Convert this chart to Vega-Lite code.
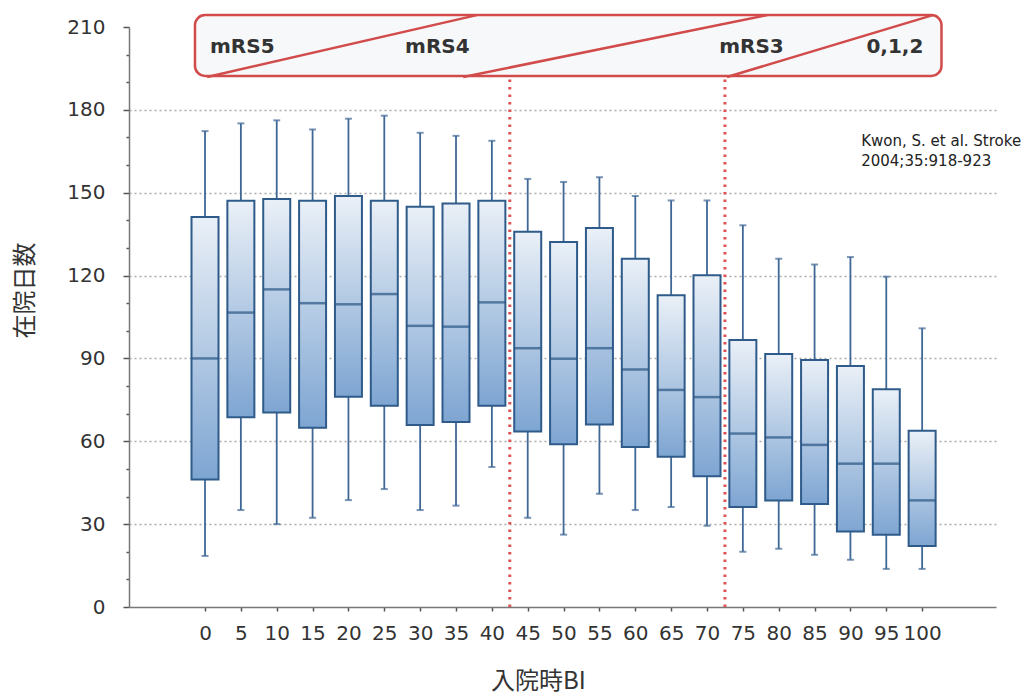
{
  "$schema": "https://vega.github.io/schema/vega-lite/v6.json",
  "width": 867,
  "height": 580,
  "autosize": "none",
  "padding": {"left": 129, "top": 27, "right": 31, "bottom": 89},
  "background": "white",
  "config": {"view": {"stroke": null}, "font": "DejaVu Sans"},
  "resolve": {"axis": {"x": "independent", "y": "independent"}},
  "datasets": {
    "boxes": [
      {"bi": 0, "min": 18.5, "q1": 46.2, "median": 90.0, "q3": 141.2, "max": 172.3},
      {"bi": 5, "min": 35.1, "q1": 68.7, "median": 106.6, "q3": 147.1, "max": 175.1},
      {"bi": 10, "min": 30.0, "q1": 70.4, "median": 115.0, "q3": 147.7, "max": 176.2},
      {"bi": 15, "min": 32.3, "q1": 64.9, "median": 110.0, "q3": 147.1, "max": 172.9},
      {"bi": 20, "min": 38.7, "q1": 76.1, "median": 109.6, "q3": 148.8, "max": 176.8},
      {"bi": 25, "min": 42.7, "q1": 72.9, "median": 113.3, "q3": 147.1, "max": 177.9},
      {"bi": 30, "min": 35.1, "q1": 65.9, "median": 101.8, "q3": 144.9, "max": 171.7},
      {"bi": 35, "min": 36.7, "q1": 67.0, "median": 101.5, "q3": 146.1, "max": 170.6},
      {"bi": 40, "min": 50.7, "q1": 72.9, "median": 110.3, "q3": 147.1, "max": 168.8},
      {"bi": 45, "min": 32.3, "q1": 63.5, "median": 93.7, "q3": 135.9, "max": 155.0},
      {"bi": 50, "min": 26.2, "q1": 58.9, "median": 89.9, "q3": 132.2, "max": 153.9},
      {"bi": 55, "min": 41.0, "q1": 66.1, "median": 93.7, "q3": 137.2, "max": 155.6},
      {"bi": 60, "min": 35.1, "q1": 57.9, "median": 86.0, "q3": 126.1, "max": 148.8},
      {"bi": 65, "min": 36.2, "q1": 54.4, "median": 78.6, "q3": 112.9, "max": 147.2},
      {"bi": 70, "min": 29.4, "q1": 47.3, "median": 76.0, "q3": 120.1, "max": 147.2},
      {"bi": 75, "min": 20.0, "q1": 36.2, "median": 62.8, "q3": 96.7, "max": 138.2},
      {"bi": 80, "min": 21.1, "q1": 38.6, "median": 61.4, "q3": 91.6, "max": 126.1},
      {"bi": 85, "min": 18.9, "q1": 37.3, "median": 58.7, "q3": 89.4, "max": 124.0},
      {"bi": 90, "min": 17.1, "q1": 27.3, "median": 51.9, "q3": 87.3, "max": 126.7},
      {"bi": 95, "min": 13.8, "q1": 26.2, "median": 51.9, "q3": 78.8, "max": 119.6},
      {"bi": 100, "min": 13.8, "q1": 22.1, "median": 38.6, "q3": 63.8, "max": 100.9}
    ],
    "frame": [{"x1": -1.4, "x2": 102.7, "y1": 192.3, "y2": 214.3}],
    "diag": [
      {"x1": 0.3, "y1": 191.9, "x2": 37.9, "y2": 214.3},
      {"x1": 36.0, "y1": 191.9, "x2": 78.4, "y2": 214.3},
      {"x1": 72.8, "y1": 191.9, "x2": 101.5, "y2": 214.3}
    ],
    "sep": [{"x": 42.5, "y1": 0, "y2": 192.3}, {"x": 72.5, "y1": 0, "y2": 192.3}],
    "labels": [
      {"x": 5.2, "y": 202.7, "text": "mRS5"},
      {"x": 32.4, "y": 202.7, "text": "mRS4"},
      {"x": 76.2, "y": 202.7, "text": "mRS3"},
      {"x": 96.2, "y": 202.7, "text": "0,1,2"}
    ],
    "cite": [
      {"x": 91.5, "y": 168.8, "text": "Kwon, S. et al. Stroke"},
      {"x": 91.5, "y": 161.6, "text": "2004;35:918-923"}
    ]
  },
  "layer": [
    {
      "data": {"name": "boxes"},
      "mark": {"type": "rule", "color": "#3f6896", "strokeWidth": 1.8},
      "encoding": {
        "x": {
          "field": "bi", "type": "quantitative",
          "scale": {"domain": [-10.6, 110.3], "nice": false, "zero": false, "padding": 0},
          "axis": {
            "title": "入院時BI", "titleFont": "Noto Sans CJK JP", "titleFontSize": 24, "titleFontWeight": "normal",
            "titleColor": "#333333", "titleX": 409, "titleY": 74, "titleBaseline": "middle", "titleAlign": "center",
            "values": [0, 5, 10, 15, 20, 25, 30, 35, 40, 45, 50, 55, 60, 65, 70, 75, 80, 85, 90, 95, 100],
            "labelFontSize": 20, "labelColor": "#333333", "labelPadding": 12, "labelFlush": false, "labelOverlap": false,
            "tickSize": 4, "tickColor": "#555555", "tickWidth": 1.5, "domainColor": "#777777", "domainWidth": 1.5, "grid": false
          }
        },
        "y": {
          "field": "min", "type": "quantitative",
          "scale": {"domain": [0, 210], "nice": false, "zero": false, "padding": 0},
          "axis": {
            "title": "在院日数", "titleFont": "Noto Sans CJK JP", "titleFontSize": 24, "titleFontWeight": "normal",
            "titleColor": "#333333", "titleAngle": -90, "titleX": -104, "titleY": 263, "titleAlign": "center", "titleBaseline": "middle",
            "values": [0, 10, 20, 30, 40, 50, 60, 70, 80, 90, 100, 110, 120, 130, 140, 150, 160, 170, 180, 190, 200, 210],
            "labelExpr": "datum.value % 30 === 0 ? datum.label : ''",
            "labelFontSize": 20, "labelColor": "#333333", "labelPadding": 18, "labelFlush": false, "labelOverlap": false,
            "tickSize": {"condition": {"test": "datum.value % 30 === 0", "value": 6}, "value": 3},
            "tickColor": "#555555", "tickWidth": 1.5, "domainColor": "#777777", "domainWidth": 1.5,
            "grid": true, "gridColor": "#aaaaaa", "gridDash": [2, 3], "gridWidth": 1.5,
            "gridOpacity": {"condition": {"test": "datum.value % 30 === 0 && datum.value > 0 && datum.value < 210", "value": 1}, "value": 0}
          }
        },
        "y2": {"field": "max"}
      }
    },
    {
      "data": {"name": "frame"},
      "mark": {"type": "rect", "fill": "#f7f8fa", "stroke": "#d24b4b", "strokeWidth": 2.5, "cornerRadius": 10},
      "encoding": {
        "x": {"field": "x1", "type": "quantitative", "scale": {"domain": [-10.6, 110.3], "nice": false, "zero": false, "padding": 0}, "axis": null},
        "x2": {"field": "x2"},
        "y": {"field": "y1", "type": "quantitative", "scale": {"domain": [0, 210], "nice": false, "zero": false, "padding": 0}, "axis": null},
        "y2": {"field": "y2"}
      }
    },
    {
      "data": {"name": "diag"},
      "mark": {"type": "rule", "color": "#d24b4b", "strokeWidth": 2.5},
      "encoding": {
        "x": {"field": "x1", "type": "quantitative", "scale": {"domain": [-10.6, 110.3], "nice": false, "zero": false, "padding": 0}, "axis": null},
        "x2": {"field": "x2"},
        "y": {"field": "y1", "type": "quantitative", "scale": {"domain": [0, 210], "nice": false, "zero": false, "padding": 0}, "axis": null},
        "y2": {"field": "y2"}
      }
    },
    {
      "data": {"name": "labels"},
      "mark": {"type": "text", "font": "DejaVu Sans", "fontSize": 20, "fontWeight": "bold", "color": "#333333", "align": "center", "baseline": "middle"},
      "encoding": {
        "x": {"field": "x", "type": "quantitative", "scale": {"domain": [-10.6, 110.3], "nice": false, "zero": false, "padding": 0}, "axis": null},
        "y": {"field": "y", "type": "quantitative", "scale": {"domain": [0, 210], "nice": false, "zero": false, "padding": 0}, "axis": null},
        "text": {"field": "text"}
      }
    },
    {
      "data": {"name": "sep"},
      "mark": {"type": "rule", "color": "#e05252", "strokeWidth": 3, "strokeDash": [2.5, 5]},
      "encoding": {
        "x": {"field": "x", "type": "quantitative", "scale": {"domain": [-10.6, 110.3], "nice": false, "zero": false, "padding": 0}, "axis": null},
        "y": {"field": "y1", "type": "quantitative", "scale": {"domain": [0, 210], "nice": false, "zero": false, "padding": 0}, "axis": null},
        "y2": {"field": "y2"}
      }
    },
    {
      "data": {"name": "boxes"},
      "mark": {"type": "tick", "orient": "horizontal", "size": 7, "thickness": 2, "color": "#3f6896"},
      "encoding": {
        "x": {"field": "bi", "type": "quantitative", "scale": {"domain": [-10.6, 110.3], "nice": false, "zero": false, "padding": 0}, "axis": null},
        "y": {"field": "min", "type": "quantitative", "scale": {"domain": [0, 210], "nice": false, "zero": false, "padding": 0}, "axis": null}
      }
    },
    {
      "data": {"name": "boxes"},
      "mark": {"type": "tick", "orient": "horizontal", "size": 7, "thickness": 2, "color": "#3f6896"},
      "encoding": {
        "x": {"field": "bi", "type": "quantitative", "scale": {"domain": [-10.6, 110.3], "nice": false, "zero": false, "padding": 0}, "axis": null},
        "y": {"field": "max", "type": "quantitative", "scale": {"domain": [0, 210], "nice": false, "zero": false, "padding": 0}, "axis": null}
      }
    },
    {
      "data": {"name": "boxes"},
      "mark": {
        "type": "bar", "width": 27, "stroke": "#2f5b8a", "strokeWidth": 2,
        "color": {"gradient": "linear", "x1": 0, "y1": 0, "x2": 0, "y2": 1,
          "stops": [{"offset": 0, "color": "#eaf0f7"}, {"offset": 1, "color": "#7ea5d2"}]}
      },
      "encoding": {
        "x": {"field": "bi", "type": "quantitative", "scale": {"domain": [-10.6, 110.3], "nice": false, "zero": false, "padding": 0}, "axis": null},
        "y": {"field": "q1", "type": "quantitative", "scale": {"domain": [0, 210], "nice": false, "zero": false, "padding": 0}, "axis": null},
        "y2": {"field": "q3"}
      }
    },
    {
      "data": {"name": "boxes"},
      "mark": {"type": "tick", "orient": "horizontal", "size": 27, "thickness": 2.5, "color": "#2a5583"},
      "encoding": {
        "x": {"field": "bi", "type": "quantitative", "scale": {"domain": [-10.6, 110.3], "nice": false, "zero": false, "padding": 0}, "axis": null},
        "y": {"field": "median", "type": "quantitative", "scale": {"domain": [0, 210], "nice": false, "zero": false, "padding": 0}, "axis": null}
      }
    },
    {
      "data": {"name": "cite"},
      "mark": {"type": "text", "font": "DejaVu Sans", "fontSize": 15, "color": "#222222", "align": "left", "baseline": "middle"},
      "encoding": {
        "x": {"field": "x", "type": "quantitative", "scale": {"domain": [-10.6, 110.3], "nice": false, "zero": false, "padding": 0}, "axis": null},
        "y": {"field": "y", "type": "quantitative", "scale": {"domain": [0, 210], "nice": false, "zero": false, "padding": 0}, "axis": null},
        "text": {"field": "text"}
      }
    }
  ]
}
